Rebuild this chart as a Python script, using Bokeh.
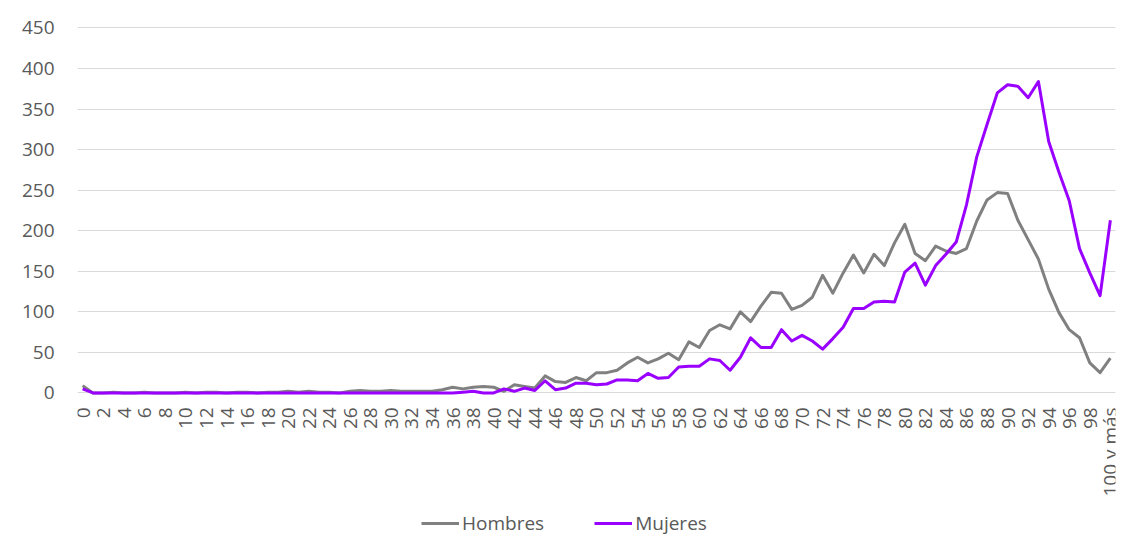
from bokeh.plotting import figure
from bokeh.models import Range1d, Legend, LegendItem, ColumnDataSource, FixedTicker
from bokeh.embed import file_html
from bokeh.resources import INLINE
import math

ages = [str(i) for i in range(100)] + ["100 y más"]

hombres = [9, 0, 0, 1, 0, 0, 1, 0, 0, 0,
           1, 0, 1, 1, 0, 1, 1, 0, 1, 1,
           2, 1, 2, 1, 1, 0, 2, 3, 2, 2,
           3, 2, 2, 2, 2, 4, 7, 5, 7, 8,
           7, 2, 10, 8, 6, 21, 14, 13, 19, 15,
           25, 25, 28, 37, 44, 37, 42, 49, 41, 63,
           56, 77, 84, 79, 100, 88, 107, 124, 123, 103,
           108, 118, 145, 123, 148, 170, 148, 171, 157, 185,
           208, 172, 163, 181, 175, 172, 178, 212, 238, 247,
           246, 213, 189, 165, 128, 99, 78, 68, 37, 25,
           43]

mujeres = [5, 0, 0, 0, 0, 0, 0, 0, 0, 0,
           0, 0, 0, 0, 0, 0, 0, 0, 0, 0,
           0, 0, 0, 0, 0, 0, 0, 0, 0, 0,
           0, 0, 0, 0, 0, 0, 0, 1, 2, 0,
           0, 5, 2, 6, 3, 15, 4, 6, 12, 12,
           10, 11, 16, 16, 15, 24, 18, 19, 32, 33,
           33, 42, 40, 28, 44, 68, 56, 56, 78, 64,
           71, 64, 54, 67, 81, 104, 104, 112, 113, 112,
           149, 160, 133, 157, 171, 186, 232, 291, 331, 370,
           380, 378, 364, 384, 310, 272, 237, 178, 148, 120,
           213]

y_ticks = [0, 50, 100, 150, 200, 250, 300, 350, 400, 450]
series_names = ["Hombres", "Mujeres"]
series_colors = ["#808080", "#9900FF"]

idx = list(range(len(ages)))
src = ColumnDataSource(dict(x=idx, age=ages, h=hombres, m=mujeres))

FONT = "Open Sans"
TXT = "#595959"

# frame extends down to the legend; x axis is pinned just below y = 0
p = figure(frame_width=1038, frame_height=513, x_range=Range1d(-0.5, len(ages) - 0.5),
           y_range=Range1d(-177, 455.5), output_backend="svg", toolbar_location=None)
p.min_border_left = 77
p.min_border_right = 14
p.min_border_top = 23
p.min_border_bottom = 0
p.outline_line_color = None
p.background_fill_color = "white"
p.border_fill_color = "white"

p.xgrid.grid_line_color = None
p.ygrid.grid_line_color = "#D9D9D9"
p.ygrid.grid_line_width = 1
p.yaxis.ticker = FixedTicker(ticks=y_ticks)

p.yaxis.axis_line_color = None
p.yaxis.major_tick_line_color = None
p.yaxis.minor_tick_line_color = None
p.yaxis.major_tick_out = 0
p.yaxis.major_tick_in = 0
p.yaxis.major_label_standoff = 23
p.yaxis.major_label_text_font = FONT
p.yaxis.major_label_text_font_size = "19px"
p.yaxis.major_label_text_color = TXT

shown = [i for i in idx if i % 2 == 0]
p.xaxis.ticker = FixedTicker(ticks=shown)
p.xaxis.major_label_overrides = {i: ages[i] for i in shown}
p.xaxis.fixed_location = -3
p.xaxis.axis_line_color = None
p.xaxis.major_tick_line_color = None
p.xaxis.minor_tick_line_color = None
p.xaxis.major_tick_out = 0
p.xaxis.major_tick_in = 0
p.xaxis.major_label_orientation = math.pi / 2
p.xaxis.major_label_standoff = 12
p.xaxis.major_label_text_font = FONT
p.xaxis.major_label_text_font_size = "19px"
p.xaxis.major_label_text_color = TXT

r1 = p.line("x", "h", source=src, line_color=series_colors[0], line_width=3, line_join="round")
r2 = p.line("x", "m", source=src, line_color=series_colors[1], line_width=3, line_join="round")

legend = Legend(items=[LegendItem(label=series_names[0], renderers=[r1]),
                       LegendItem(label=series_names[1], renderers=[r2])],
                orientation="horizontal", location=(344, 0))
legend.label_text_font = FONT
legend.label_text_font_size = "19px"
legend.label_text_color = TXT
legend.glyph_width = 38
legend.glyph_height = 20
legend.label_standoff = 3
legend.spacing = 50
legend.padding = 2
legend.margin = 0
legend.border_line_color = None
legend.background_fill_alpha = 0
p.add_layout(legend, "center")

open("out.html", "w").write(file_html(p, INLINE))
